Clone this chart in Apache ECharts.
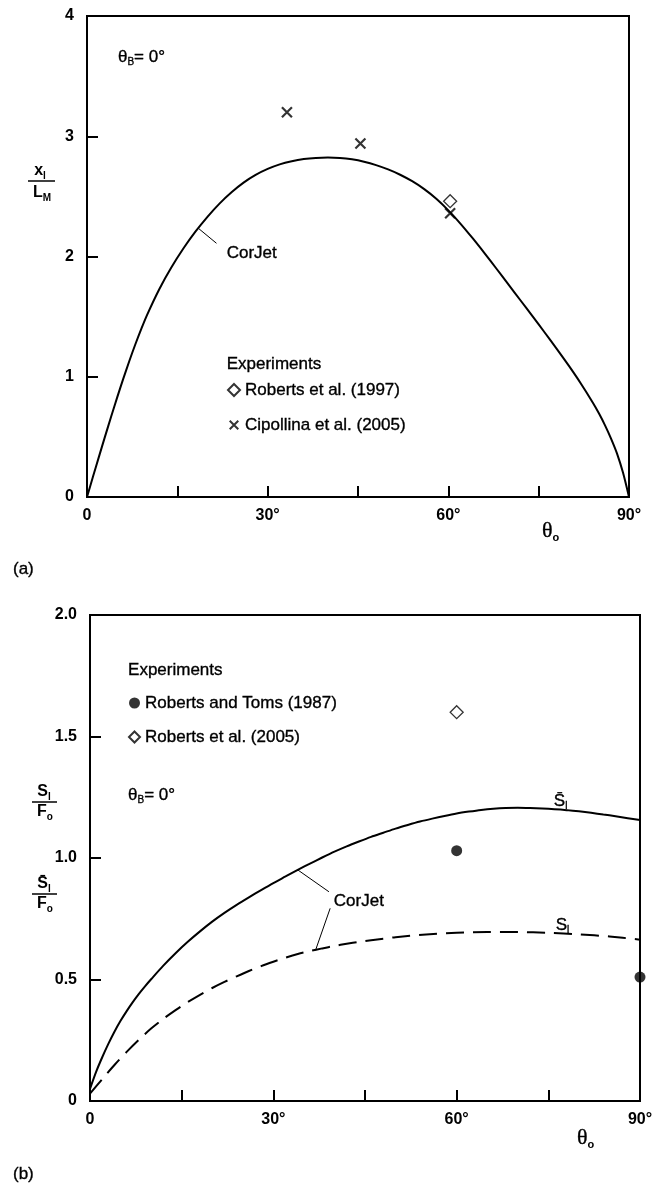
<!DOCTYPE html>
<html>
<head>
<meta charset="utf-8">
<script src="https://cdn.jsdelivr.net/npm/echarts@6/dist/echarts.min.js"></script>
<style>
html,body{margin:0;padding:0;background:#fff;}
#c{width:658px;height:1186px;}
</style>
</head>
<body>
<div id="c"></div>
<script>
// ---------- data: panel (a) ----------
const aTheta = [0,1,2,3,4,5,6,7,8,9,10,12,14,16,18,20,22,24,26,28,30,32,34,36,38,40,42,44,46,48,50,52,54,56,58,60,62,64,66,68,70,72,74,76,78,80,82,84,85,86,87,88,89,90];
const aCorJet = [0,0.17,0.338,0.504,0.667,0.826,0.98,1.127,1.266,1.396,1.517,1.728,1.908,2.066,2.206,2.33,2.44,2.534,2.614,2.678,2.728,2.766,2.792,2.81,2.82,2.824,2.82,2.808,2.788,2.76,2.724,2.68,2.626,2.56,2.48,2.384,2.274,2.154,2.028,1.898,1.766,1.634,1.502,1.368,1.232,1.092,0.944,0.784,0.696,0.598,0.488,0.363,0.203,0];
const aRoberts97Theta = [60.3];
const aRoberts97Val = [2.46];
const aCipollinaTheta = [33.2,45.4,60.3];
const aCipollinaVal = [3.20,2.94,2.36];
// ---------- data: panel (b) ----------
const bThetaBar = [0,1,2,3,4,5,6,7,8,9,10,12,14,16,18,20,22,24,26,28,30,32,34,36,38,40,42,44,46,48,50,52,54,56,58,60,62,64,66,68,70,72,74,76,78,80,82,84,86,88,90];
const bSbar = [0.05,0.12,0.18,0.235,0.285,0.33,0.37,0.407,0.441,0.472,0.501,0.557,0.608,0.655,0.698,0.738,0.774,0.807,0.838,0.868,0.897,0.924,0.951,0.977,1.002,1.026,1.048,1.068,1.087,1.104,1.121,1.136,1.150,1.162,1.173,1.183,1.191,1.198,1.203,1.206,1.207,1.206,1.204,1.201,1.197,1.192,1.186,1.179,1.172,1.164,1.156];
const bThetaS = [0,2,4,6,8,10,12,14,16,18,20,22,24,26,28,30,32,34,36,38,40,42,44,46,48,50,55,60,65,70,75,80,85,90];
const bS = [0.03,0.09,0.148,0.202,0.252,0.298,0.338,0.374,0.407,0.437,0.465,0.49,0.513,0.535,0.555,0.573,0.59,0.605,0.617,0.628,0.638,0.647,0.655,0.662,0.668,0.674,0.685,0.692,0.695,0.695,0.692,0.686,0.677,0.664];
const bTomsTheta = [60,90];
const bTomsVal = [1.03,0.51];
const bRoberts05Theta = [60];
const bRoberts05Val = [1.60];
// ---------- tick labels ----------
const thetaLabels = {0:'0',30:'30°',60:'60°',90:'90°'};

const FONT = '"Liberation Sans", Arial, Helvetica, sans-serif';
const SERIF = '"Liberation Serif", "Times New Roman", serif';
const pairs = (xs, ys) => xs.map((x, i) => [x, ys[i]]);
const crossPath = 'path://M0,0L10,10M10,0L0,10';
const crossIcon = 'path://M-2,-2M12,12M0,0L10,10M10,0L0,10';

function xAx(g){
  return {type:'value', gridIndex:g, min:0, max:90, interval:15,
    axisLine:{show:true, onZero:false, lineStyle:{color:'#000', width:2}},
    axisTick:{show:true, inside:true, length:11, lineStyle:{color:'#000', width:2}},
    axisLabel:{color:'#000', fontFamily:FONT, fontWeight:'bold', fontSize:16, margin:11,
      showMinLabel:true, showMaxLabel:true,
      formatter: v => (thetaLabels[v] !== undefined ? thetaLabels[v] : '')},
    splitLine:{show:false}};
}
function yAx(g, max, interval, fmt){
  return {type:'value', gridIndex:g, min:0, max:max, interval:interval,
    axisLine:{show:true, onZero:false, lineStyle:{color:'#000', width:2}},
    axisTick:{show:true, inside:true, length:11, lineStyle:{color:'#000', width:2}},
    axisLabel:{color:'#000', fontFamily:FONT, fontWeight:'bold', fontSize:16, margin:13,
      showMinLabel:true, showMaxLabel:true, formatter: fmt},
    splitLine:{show:false}};
}
const leader = {silent:true, symbol:'none', label:{show:false}, emphasis:{disabled:true},
  lineStyle:{color:'#000', width:1, type:'solid'}};
const legText = {fontFamily:FONT, fontSize:17, color:'#000', lineHeight:18, textBorderColor:'#000', textBorderWidth:0.35};

const option = {
  animation:false,
  backgroundColor:'#fff',
  grid:[
    {left:87, top:16, width:542, height:481, show:true, borderColor:'#000', borderWidth:2},
    {left:90, top:615, width:550, height:486, show:true, borderColor:'#000', borderWidth:2}
  ],
  xAxis:[xAx(0), xAx(1)],
  yAxis:[
    yAx(0, 4, 1, v => String(v)),
    yAx(1, 2, 0.5, v => (v === 0 ? '0' : v.toFixed(1)))
  ],
  legend:[
    {data:['Roberts et al. (1997)', {name:'Cipollina et al. (2005)', icon:crossIcon}], orient:'vertical', left:227, top:381,
      itemWidth:12, itemHeight:12, itemGap:17, padding:0, selectedMode:false, textStyle:legText},
    {data:['Roberts and Toms (1987)','Roberts et al. (2005)'], orient:'vertical', left:128, top:694,
      itemWidth:11, itemHeight:11, itemGap:16, padding:0, selectedMode:false, textStyle:legText}
  ],
  series:[
    {type:'line', name:'CorJet a', xAxisIndex:0, yAxisIndex:0, data:pairs(aTheta, aCorJet),
      symbol:'none', smooth:0.3, lineStyle:{color:'#000', width:2}, z:2,
      markLine:Object.assign({data:[[{coord:[18.6,2.23]},{coord:[21.5,2.11]}]]}, leader)},
    {type:'scatter', name:'Roberts et al. (1997)', xAxisIndex:0, yAxisIndex:0,
      data:pairs(aRoberts97Theta, aRoberts97Val), symbol:'diamond', symbolSize:13,
      itemStyle:{color:'#fff', borderColor:'#000', borderWidth:1.3}, z:5},
    {type:'scatter', name:'Cipollina et al. (2005)', xAxisIndex:0, yAxisIndex:0,
      data:pairs(aCipollinaTheta, aCipollinaVal), symbol:crossPath, symbolSize:10,
      itemStyle:{color:'rgba(0,0,0,0)', borderColor:'#000', borderWidth:2.2}, z:5},
    {type:'line', name:'Sbar', xAxisIndex:1, yAxisIndex:1, data:pairs(bThetaBar, bSbar),
      symbol:'none', smooth:0.3, lineStyle:{color:'#000', width:2}, z:2,
      markLine:Object.assign({data:[[{coord:[34.0,0.951]},{coord:[39.1,0.861]}]]}, leader)},
    {type:'line', name:'S', xAxisIndex:1, yAxisIndex:1, data:pairs(bThetaS, bS),
      symbol:'none', smooth:0.3, lineStyle:{color:'#000', width:2, type:[18,9]}, z:2,
      markLine:Object.assign({data:[[{coord:[39.3,0.793]},{coord:[36.9,0.62]}]]}, leader)},
    {type:'scatter', name:'Roberts and Toms (1987)', xAxisIndex:1, yAxisIndex:1, clip:false,
      data:pairs(bTomsTheta, bTomsVal), symbol:'circle', symbolSize:11,
      itemStyle:{color:'#000'}, z:5},
    {type:'scatter', name:'Roberts et al. (2005)', xAxisIndex:1, yAxisIndex:1,
      data:pairs(bRoberts05Theta, bRoberts05Val), symbol:'diamond', symbolSize:13,
      itemStyle:{color:'#fff', borderColor:'#000', borderWidth:1.3}, z:5}
  ]
};

const chart = echarts.init(document.getElementById('c'));
chart.setOption(option);

const P = (g, x, y) => chart.convertToPixel({gridIndex:g}, [x, y]);
const thick = {stroke:'#000', lineWidth:0.35};
const rich = {
  t:Object.assign({fontFamily:FONT, fontSize:17, lineHeight:20, fill:'#000'}, thick),
  b:{fontFamily:FONT, fontSize:16, fontWeight:'bold', lineHeight:20, fill:'#000'},
  s:Object.assign({fontFamily:FONT, fontSize:10, lineHeight:10, verticalAlign:'bottom', fill:'#000'}, thick),
  sb:{fontFamily:FONT, fontSize:10, fontWeight:'bold', lineHeight:10, verticalAlign:'bottom', fill:'#000'},
  th:Object.assign({fontFamily:SERIF, fontSize:22, lineHeight:24, fill:'#000'}, thick),
  so:{fontFamily:FONT, fontSize:11, fontWeight:'bold', lineHeight:10, verticalAlign:'bottom', fill:'#000'}
};
function txt(x, y, text, align){
  return {type:'text', x:x, y:y, silent:true,
    style:{text:text, rich:rich, font:'17px ' + FONT, fill:'#000',
      align:align || 'left', verticalAlign:'middle'}};
}
function txtAt(g, dx, dy, text, align){
  const p = P(g, dx, dy);
  return txt(p[0], p[1], text, align);
}
function hline(x1, x2, y){
  return {type:'line', silent:true, shape:{x1:x1, y1:y, x2:x2, y2:y}, style:{stroke:'#000', lineWidth:1.5}};
}

const graphic = [
  // panel (a)
  txtAt(0, 5.14, 3.658, '{t|θ}{s|B}{t|= 0°}'),
  txtAt(0, 23.2, 2.03, '{t|CorJet}'),
  txtAt(0, 23.2, 1.10, '{t|Experiments}'),
  txt(40, 171, '{b|x}{sb|l}', 'center'),
  hline(28, 55, 181),
  txt(42, 193, '{b|L}{sb|M}', 'center'),
  txt(542, 531, '{th|θ}{so|o}'),
  txt(13, 569, '{t|(a)}'),
  // panel (b)
  txtAt(1, 6.23, 1.774, '{t|Experiments}'),
  txtAt(1, 6.23, 1.259, '{t|θ}{s|B}{t|= 0°}'),
  txtAt(1, 39.9, 0.821, '{t|CorJet}'),
  txtAt(1, 75.9, 1.235, '{t|S\u0304}{s|l}'),
  txtAt(1, 76.2, 0.724, '{t|S}{s|l}'),
  txt(44, 792, '{b|S}{sb|l}', 'center'),
  hline(32, 57, 802),
  txt(45, 812, '{b|F}{sb|o}', 'center'),
  txt(44, 884, '{b|S\u0304}{sb|l}', 'center'),
  hline(32, 57, 894),
  txt(45, 904, '{b|F}{sb|o}', 'center'),
  txt(577, 1138, '{th|θ}{so|o}'),
  txt(13, 1174, '{t|(b)}')
];
chart.setOption({graphic:graphic});
</script>
</body>
</html>
